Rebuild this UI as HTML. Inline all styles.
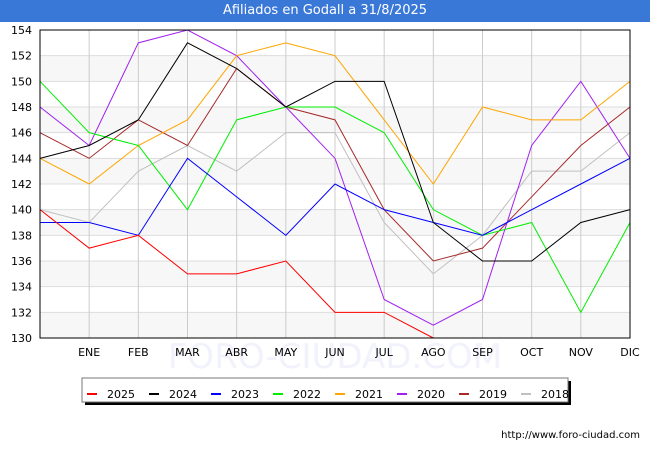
<!DOCTYPE html>
<html><head><meta charset="utf-8"><style>
body{margin:0;background:#fff;font-family:"DejaVu Sans","Liberation Sans",sans-serif}
#wrap{position:relative;width:650px;height:450px;overflow:hidden;background:#fff}
#hdr{position:absolute;left:0;top:0;width:650px;height:22px;background:#3a78d8;color:#fff;font-size:13px;text-align:center;line-height:22px}
</style></head><body>
<div id="wrap">
<div id="hdr">Afiliados en Godall a 31/8/2025</div>
<svg id="chart" width="650" height="450" style="position:absolute;left:0;top:0"></svg>
</div>
<script>
const months=["","ENE","FEB","MAR","ABR","MAY","JUN","JUL","AGO","SEP","OCT","NOV","DIC"];
const yTicks=[130,132,134,136,138,140,142,144,146,148,150,152,154];
const seriesNames=["2025","2024","2023","2022","2021","2020","2019","2018"];
const seriesColors=["#ff0000","#000000","#0000ff","#00ee00","#ffa500","#a020f0","#a52a2a","#c0c0c0"];
const s2025=[140,137,138,135,135,136,132,132,130];
const s2024=[144,145,147,153,151,148,150,150,139,136,136,139,140];
const s2023=[139,139,138,144,141,138,142,140,139,138,140,142,144];
const s2022=[150,146,145,140,147,148,148,146,140,138,139,132,139];
const s2021=[144,142,145,147,152,153,152,147,142,148,147,147,150];
const s2020=[148,145,153,154,152,148,144,133,131,133,145,150,144];
const s2019=[146,144,147,145,151,148,147,140,136,137,141,145,148];
const s2018=[140,139,143,145,143,146,146,139,135,138,143,143,146];
const seriesData=[s2025,s2024,s2023,s2022,s2021,s2020,s2019,s2018];

const NS="http://www.w3.org/2000/svg";
const svg=document.getElementById('chart');
const L=40,R=630,T=30,B=338,yMin=130,yMax=154;
const xs=i=>L+(R-L)*i/(months.length-1);
const ys=v=>B-(v-yMin)/(yMax-yMin)*(B-T);
function mk(tag,attrs,parent){const e=document.createElementNS(NS,tag);for(const k in attrs)e.setAttribute(k,attrs[k]);(parent||svg).appendChild(e);return e;}

// bands
for(let i=0;i<yTicks.length-1;i++){
  if(i%2===0){
    const r=mk('rect',{x:L,y:ys(yTicks[i+1]),width:R-L,height:ys(yTicks[i])-ys(yTicks[i+1]),fill:'#f7f7f7'});
    
    
  }
}
// watermark (behind)
const wm=mk('text',{x:335,y:368,'text-anchor':'middle','font-size':34,fill:'#f1f2fb'});
wm.textContent='FORO-CIUDAD.COM';


// horizontal grid + y labels
yTicks.forEach(v=>{
  const l=mk('line',{x1:L,x2:R,y1:ys(v),y2:ys(v),stroke:'#dddddd','stroke-width':1});
  
  
  const t=mk('text',{x:L-8,y:ys(v)+4,'text-anchor':'end','font-size':11,fill:'#000'});
  t.textContent=v;
  
  
});
// vertical grid + x labels
months.forEach((m,i)=>{
  if(i===0)return;
  const l=mk('line',{x1:xs(i),x2:xs(i),y1:T,y2:B,stroke:'#cccccc','stroke-width':1});
  
  
  const t=mk('text',{x:xs(i),y:B+18,'text-anchor':'middle','font-size':11,fill:'#000'});
  t.textContent=m;
  
  
});
// series (draw oldest first)
for(let k=seriesData.length-1;k>=0;k--){
  const pts=seriesData[k].map((v,i)=>xs(i)+','+ys(v)).join(' ');
  const p=mk('polyline',{points:pts,fill:'none',stroke:seriesColors[k],'stroke-width':1});
  
  
}
// frame
const fr=mk('rect',{x:L,y:T,width:R-L,height:B-T,fill:'none',stroke:'#000','stroke-width':1});


// legend
const sh=mk('rect',{x:85,y:381,width:486,height:24,fill:'#000'});


const lb=mk('rect',{x:82,y:378,width:486,height:24,fill:'#fff',stroke:'#777','stroke-width':1});


seriesNames.forEach((n,k)=>{
  const x=87+k*62;
  const sw=mk('line',{x1:x,x2:x+10,y1:394,y2:394,stroke:seriesColors[k],'stroke-width':2});
  
  
  const t=mk('text',{x:x+20,y:398,'font-size':11,fill:'#000'});
  t.textContent=n;
  
  
});
const url=mk('text',{x:640,y:438,'text-anchor':'end','font-size':10,fill:'#000'});
url.textContent='http://www.foro-ciudad.com';


</script>
</body></html>
